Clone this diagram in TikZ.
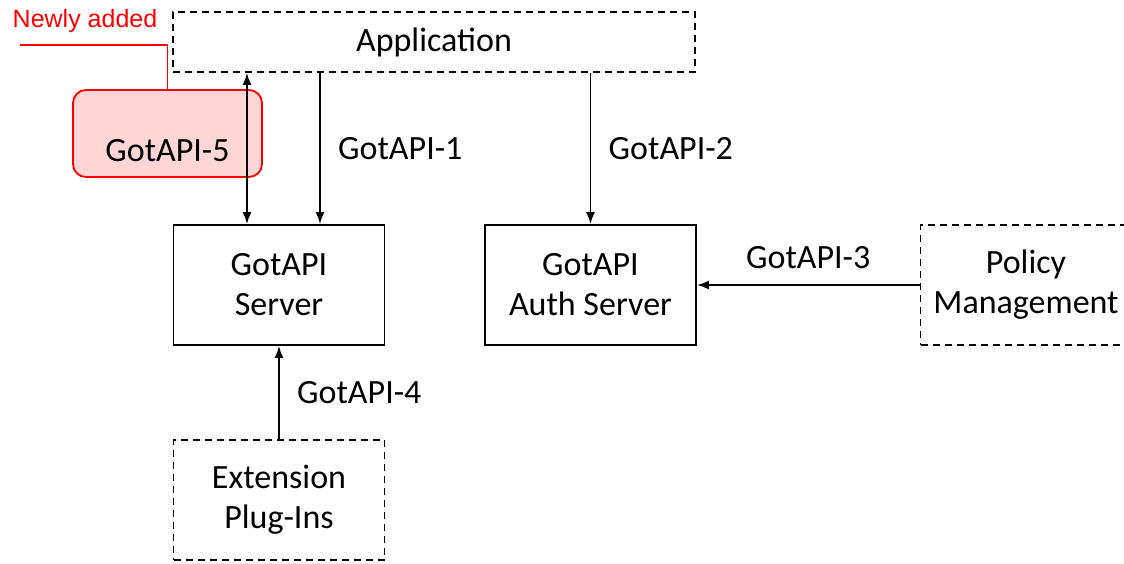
\documentclass[tikz,border=0pt]{standalone}
\usepackage{fontspec}
\setmainfont{Carlito}
\newfontfamily\notefont{Liberation Sans}
\usetikzlibrary{positioning,arrows.meta}
\definecolor{newred}{RGB}{255,0,0}
\definecolor{newpink}{RGB}{255,214,214}

\begin{document}
\begin{tikzpicture}[x=1pt ,y=-1pt ,-{Latex[length=12pt,width=9pt]} ,on grid ,
line width =1.8pt ,font =\fontsize{34}{40}\selectfont ,
box/.style ={ rectangle ,draw ,align =center ,
  minimum width =211pt ,minimum height =120pt},
extbox/.style ={ box ,dash pattern =on 7pt off 5pt},
newbox/.style ={ rectangle ,rounded corners =13pt ,draw =newred ,
  fill =newpink ,minimum width =189pt ,minimum height =87pt}]
\useasboundingbox (0,0) rectangle (1124,563);
\node[box] (srv) at (279,285) {GotAPI\\Server};
\node[box] (auth) [right =311.5pt of srv] {GotAPI\\Auth Server};
\node[extbox] (pol) [right =435.5pt of auth] {Policy\\Management};
\node[extbox] (ext) [below =215pt of srv] {Extension\\Plug-Ins};
\node[extbox ,minimum width =522pt ,minimum height =60pt] (app)
  [above right =243pt and 155pt of srv] {Application};
\node[newbox] (got5) [above left =151.5pt and 111.5pt of srv]
  {\raisebox{-17pt}[\height][\depth]{GotAPI-5}};
% note on the new interface
\node[text =newred ,font =\notefont\fontsize{25}{30}\selectfont] (note) at (85,21) {Newly added};
\coordinate (noteend) at (20,45);
\draw[-, newred] (got5.north) |- (noteend);
% interfaces
\draw[{Latex[length=12pt,width=9pt]}-{Latex[length=12pt,width=9pt]}]
  ([xshift=-32pt]srv.north |- app.south) -- ([xshift=-32pt]srv.north);
\draw ([xshift=41pt]srv.north |- app.south) -- node[right =14pt ,anchor =west] {GotAPI-1} ([xshift=41pt]srv.north);
\draw (auth.north |- app.south) -- node[right =14pt ,anchor =west] {GotAPI-2} (auth.north);
\draw (pol.west) -- node[above =12pt ,anchor =south] {GotAPI-3} (auth.east);
\draw (ext.north) -- node[right =14pt ,anchor =west] {GotAPI-4} (srv.south);
\end{tikzpicture}
\end{document}
